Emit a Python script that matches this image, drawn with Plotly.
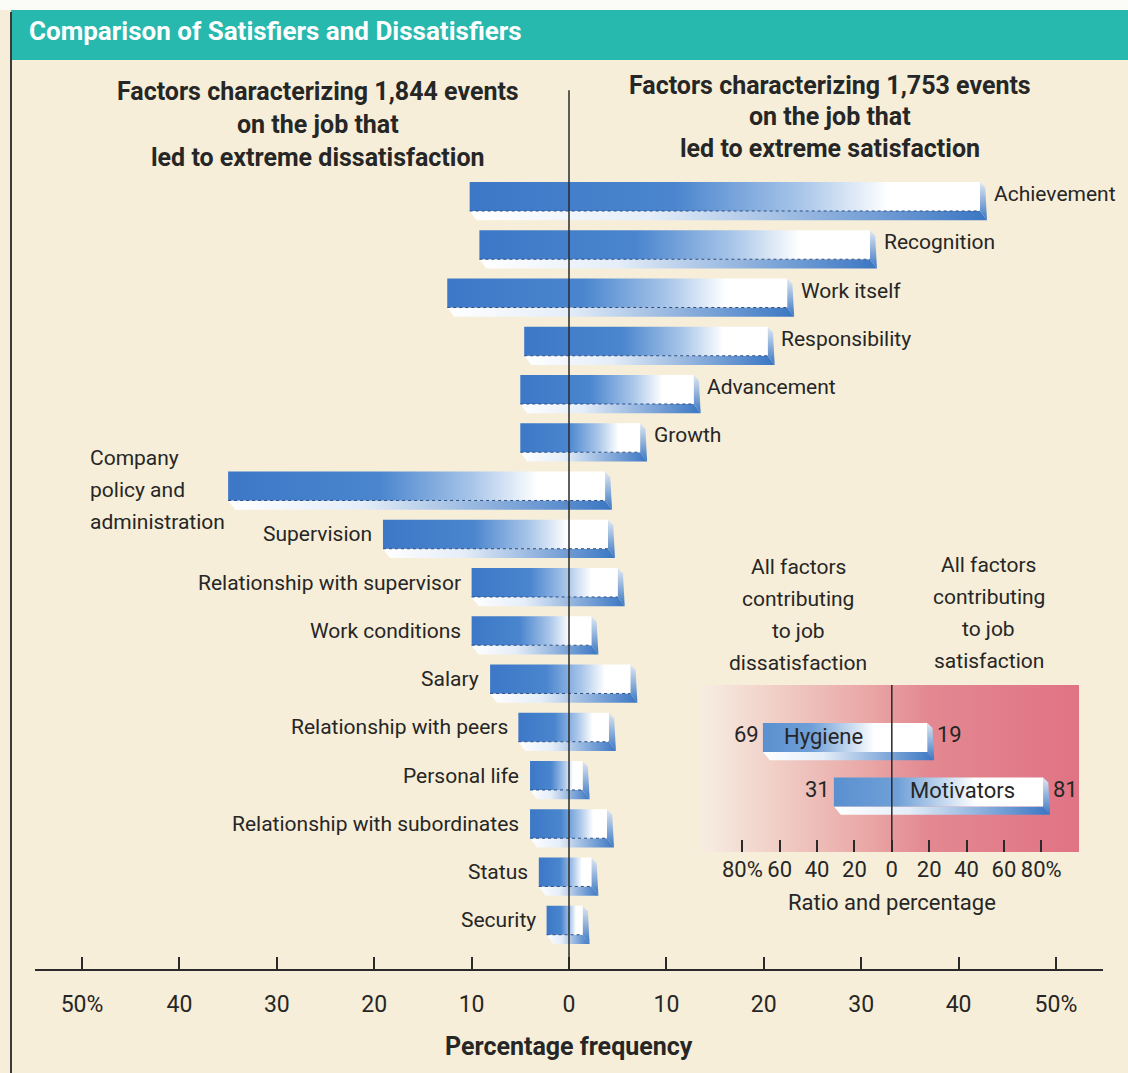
import plotly.graph_objects as go

# ---------------- data ----------------
factors = ["Achievement", "Recognition", "Work itself", "Responsibility", "Advancement", "Growth",
           "Company policy and administration", "Supervision", "Relationship with supervisor",
           "Work conditions", "Salary", "Relationship with peers", "Personal life",
           "Relationship with subordinates", "Status", "Security"]
company_policy_lines = ["Company", "policy and", "administration"]
dissatisfaction = [10.2, 9.2, 12.5, 4.6, 5.0, 5.0, 35.0, 19.1, 10.0, 10.0, 8.1, 5.2, 4.0, 4.0, 3.1, 2.3]
satisfaction = [42.2, 30.9, 22.4, 20.4, 12.8, 7.3, 3.7, 4.0, 5.0, 2.3, 6.3, 4.1, 1.4, 3.9, 2.3, 1.4]
motivator_count = 6  # first six factors are motivators (label on the right)

main_tickvals = [-50, -40, -30, -20, -10, 0, 10, 20, 30, 40, 50]
main_ticktext = ["50%", "40", "30", "20", "10", "0", "10", "20", "30", "40", "50%"]

inset_labels = ["Hygiene", "Motivators"]
inset_dissatisfaction = [69, 31]
inset_satisfaction = [19, 81]
inset_tickvals = [-80, -60, -40, -20, 0, 20, 40, 60, 80]
inset_ticktext = ["80%", "60", "40", "20", "0", "20", "40", "60", "80%"]

# ---------------- style ----------------
W, H = 1128, 1073
FONT = "Roboto"
TXT = "#262626"
CREAM = "#f6eed8"
FACE_CS = [[0, "#3c78c7"], [0.4, "#4a85ce"], [0.65, "#a9c6e9"], [0.82, "#ffffff"], [1, "#ffffff"]]
BEVEL_CS = [[0, "#ffffff"], [0.35, "#e4edf8"], [1, "#3a76c3"]]
CAP_CS = [[0, "#dfe8f3"], [0.5, "#8eb0da"], [1, "#3a76c3"]]
INSET_FACE_CS = [[0, "#5a90d0"], [0.3, "#6f9fd7"], [0.68, "#ffffff"], [1, "#ffffff"]]
INSET_BG_CS = [[0, "#f7ede2"], [0.15, "#f2d6cd"], [0.45, "#e9a5a4"], [0.6, "#e38891"], [1, "#e07384"]]

fig = go.Figure()


def poly(xs, ys, gtype, cs, start, stop, xa="x", ya="y"):
    fig.add_trace(go.Scatter(
        x=xs, y=ys, fill="toself", mode="lines", line=dict(width=0),
        fillgradient=dict(type=gtype, colorscale=cs, start=start, stop=stop),
        hoverinfo="skip", showlegend=False, xaxis=xa, yaxis=ya))


def bar3d(i, L, R, h, b, dx, face_cs, xa="x", ya="y", edge=True):
    top, bot = i - h, i + h
    # bottom bevel
    poly([L, R, R + dx, L + dx, L], [bot, bot, bot + b, bot + b, bot], "horizontal", BEVEL_CS, L, R + dx, xa, ya)
    # right side cap
    poly([R, R + dx * 0.75, R + dx, R, R], [top, top + b * 0.6, bot + b, bot, top], "vertical", CAP_CS, top, bot + b, xa, ya)
    # front face
    poly([L, R, R, L, L], [top, top, bot, bot, top], "horizontal", face_cs, L, R, xa, ya)
    if edge:
        fig.add_trace(go.Scatter(x=[L, R], y=[bot, bot], mode="lines",
                                 line=dict(color="#2c4f86", width=1, dash="dot"),
                                 hoverinfo="skip", showlegend=False, xaxis=xa, yaxis=ya))


# ---------------- main bars ----------------
h, b, dx = 0.30, 0.19, 0.72
for i, (f, d, s) in enumerate(zip(factors, dissatisfaction, satisfaction)):
    bar3d(i, -d, s, h, b, dx, FACE_CS)

LABEL_FONT = dict(family=FONT, size=21, color=TXT)
annotations = []
for i, (f, d, s) in enumerate(zip(factors, dissatisfaction, satisfaction)):
    if i < motivator_count:
        annotations.append(dict(x=s + 1.2, y=i - 0.05, xref="x", yref="y", text=f, showarrow=False,
                                xanchor="left", yanchor="middle", font=LABEL_FONT))
    elif f == "Company policy and administration":
        for k, line in enumerate(company_policy_lines):
            annotations.append(dict(x=-d - 14.4, y=i - 0.58 + 0.665 * k, xref="x", yref="y", text=line,
                                    showarrow=False, xanchor="left", yanchor="middle", font=LABEL_FONT))
    else:
        annotations.append(dict(x=-d - 0.9, y=i, xref="x", yref="y", text=f, showarrow=False,
                                xanchor="right", yanchor="middle", font=LABEL_FONT))

# ---------------- inset ----------------
fig.add_trace(go.Scatter(x=[-101.6, 100.2, 100.2, -101.6, -101.6], y=[-0.963, -0.963, 2.10, 2.10, -0.963],
                         fill="toself", mode="lines", line=dict(width=0),
                         fillgradient=dict(type="horizontal", colorscale=INSET_BG_CS, start=-101.6, stop=100.2),
                         hoverinfo="skip", showlegend=False, xaxis="x2", yaxis="y2"))
ih, ib, idx = 0.266, 0.15, 3.7
INSET_FONT = dict(family=FONT, size=22, color=TXT)
for j, (lab, d, s) in enumerate(zip(inset_labels, inset_dissatisfaction, inset_satisfaction)):
    bar3d(j, -d, s, ih, ib, idx, INSET_FACE_CS, "x2", "y2", edge=False)
    annotations.append(dict(x=-d - 1, y=j - 0.05, xref="x2", yref="y2", text=str(d), showarrow=False,
                            xanchor="right", yanchor="middle", font=INSET_FONT))
    annotations.append(dict(x=s + idx + 0.5, y=j - 0.05, xref="x2", yref="y2", text=str(s), showarrow=False,
                            xanchor="left", yanchor="middle", font=INSET_FONT))
    if d > s:
        annotations.append(dict(x=-d + 10, y=j - 0.02, xref="x2", yref="y2", text=lab, showarrow=False,
                                xanchor="left", yanchor="middle", font=INSET_FONT))
    else:
        annotations.append(dict(x=s - 14, y=j - 0.02, xref="x2", yref="y2", text=lab, showarrow=False,
                                xanchor="right", yanchor="middle", font=INSET_FONT))


def py(px):
    return 1 - px / H


def px_(x):
    return x / W


for k, line in enumerate(["All factors", "contributing", "to job", "dissatisfaction"]):
    annotations.append(dict(x=-50, y=py(567 + 32 * k), xref="x2", yref="paper", text=line, showarrow=False,
                            xanchor="center", yanchor="middle", font=dict(family=FONT, size=21, color=TXT)))
for k, line in enumerate(["All factors", "contributing", "to job", "satisfaction"]):
    annotations.append(dict(x=52, y=py(565 + 32 * k), xref="x2", yref="paper", text=line, showarrow=False,
                            xanchor="center", yanchor="middle", font=dict(family=FONT, size=21, color=TXT)))
annotations.append(dict(x=0, y=py(902), xref="x2", yref="paper", text="Ratio and percentage", showarrow=False,
                        xanchor="center", yanchor="middle", font=dict(family=FONT, size=22, color=TXT)))

# headings
HEAD_FONT = dict(family=FONT, size=25, color=TXT)
for k, line in enumerate(["Factors characterizing 1,844 events", "on the job that", "led to extreme dissatisfaction"]):
    annotations.append(dict(x=px_(318), y=py(92 + 32.5 * k), xref="paper", yref="paper", text="<b>%s</b>" % line,
                            showarrow=False, xanchor="center", yanchor="middle", font=HEAD_FONT))
for k, line in enumerate(["Factors characterizing 1,753 events", "on the job that", "led to extreme satisfaction"]):
    annotations.append(dict(x=px_(830), y=py(86 + 31 * k), xref="paper", yref="paper", text="<b>%s</b>" % line,
                            showarrow=False, xanchor="center", yanchor="middle", font=HEAD_FONT))
annotations.append(dict(x=px_(27), y=py(31), xref="paper", yref="paper",
                        text="<b>Comparison of Satisfiers and Dissatisfiers</b>", showarrow=False,
                        xanchor="left", yanchor="middle", font=dict(family=FONT, size=26, color="#ffffff")))
annotations.append(dict(x=0, y=py(1046), xref="x", yref="paper", text="<b>Percentage frequency</b>",
                        showarrow=False, xanchor="center", yanchor="middle",
                        font=dict(family=FONT, size=25, color=TXT)))

shapes = [
    dict(type="rect", xref="paper", yref="paper", x0=0, x1=1, y0=py(0), y1=py(10),
         fillcolor="#fbfbf8", line=dict(width=0), layer="below"),
    dict(type="rect", xref="paper", yref="paper", x0=px_(11), x1=1, y0=py(10), y1=py(60),
         fillcolor="#27b8ae", line=dict(width=0), layer="below"),
    dict(type="line", xref="paper", yref="paper", x0=px_(11), x1=px_(11), y0=py(12), y1=0,
         line=dict(color="#3a3a3a", width=2), layer="above"),
    dict(type="line", xref="x", yref="y", x0=0, x1=0, y0=-2.2, y1=16.05,
         line=dict(color="#2a2a2a", width=1.5), layer="above"),
    dict(type="line", xref="x2", yref="y2", x0=0, x1=0, y0=-0.963, y1=2.10,
         line=dict(color="#2a2a2a", width=1.5), layer="above"),
]

fig.update_layout(
    width=W, height=H, margin=dict(l=0, r=0, t=0, b=0),
    paper_bgcolor=CREAM, plot_bgcolor="rgba(0,0,0,0)",
    showlegend=False, annotations=annotations, shapes=shapes,
    xaxis=dict(domain=[35 / W, 1103 / W], range=[-54.83, 54.83], anchor="free", position=py(970),
               showgrid=False, zeroline=False, showline=True, linecolor="#2a2a2a", linewidth=2,
               ticks="inside", ticklen=12, tickwidth=1.5, tickcolor="#2a2a2a",
               tickvals=main_tickvals, ticktext=main_ticktext, ticklabelstandoff=13,
               tickfont=dict(family=FONT, size=23, color=TXT), fixedrange=True),
    yaxis=dict(domain=[0, 1], range=[18.166, -4.073], visible=False, fixedrange=True),
    xaxis2=dict(domain=[702 / W, 1079 / W], range=[-101.6, 100.2], anchor="y2",
                showgrid=False, zeroline=False, showline=False,
                ticks="inside", ticklen=12, tickwidth=1.5, tickcolor="#2a2a2a",
                tickvals=inset_tickvals, ticktext=inset_ticktext, ticklabelstandoff=2,
                tickfont=dict(family=FONT, size=22, color=TXT), fixedrange=True),
    yaxis2=dict(domain=[py(852), py(685)], range=[2.10, -0.963], anchor="x2", visible=False, fixedrange=True),
)

fig.write_html("out.html")
